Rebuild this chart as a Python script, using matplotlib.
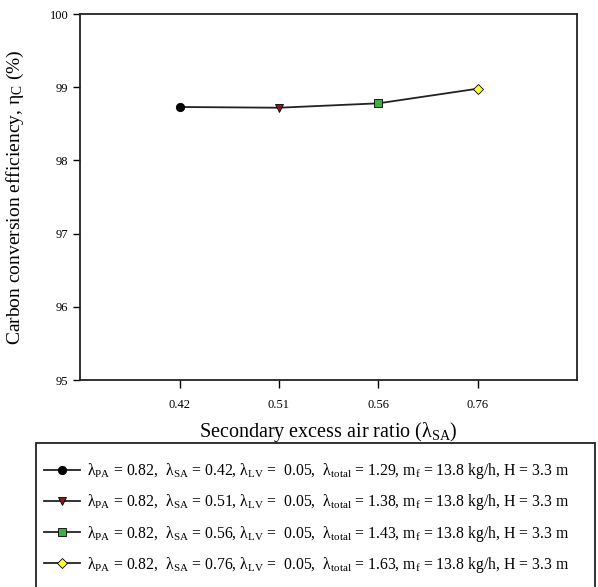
import matplotlib
matplotlib.use("Agg")
import matplotlib.pyplot as plt
from matplotlib.patches import Rectangle

plt.rcParams['font.family'] = ['Liberation Serif', 'DejaVu Serif']
plt.rcParams['mathtext.fontset'] = 'custom'
plt.rcParams['mathtext.rm'] = 'Liberation Serif'
plt.rcParams['mathtext.it'] = 'Liberation Serif:italic'

# data
sa_labels = ["0.42", "0.51", "0.56", "0.76"]
efficiency = [98.73, 98.72, 98.78, 98.98]
lambda_total = ["1.29", "1.38", "1.43", "1.63"]

markers = ["o", "v", "s", "D"]
colors = ["black", "#8b1a1a", "#3cb043", "#ffff33"]
sizes = [6, 6, 5.5, 5]

fig = plt.figure(figsize=(5.98, 5.87), dpi=100)
ax = fig.add_axes([0.134, 0.3526, 0.831, 0.6235])

pos = list(range(1, len(sa_labels) + 1))
ax.plot(pos, efficiency, color="#222222", lw=1.3, zorder=2)

for i in range(len(pos)):
    lab = ("λ$_{\\mathrm{PA}}$ = 0.82,  λ$_{\\mathrm{SA}}$ = " + sa_labels[i]
           + ", λ$_{\\mathrm{LV}}$ =  0.05,  λ$_{\\mathrm{total}}$ = " + lambda_total[i]
           + ", m$_{\\mathrm{f}}$ = 13.8 kg/h, H = 3.3 m")
    ax.plot([pos[i]], [efficiency[i]], ls="-", color="#222222", lw=1.3,
            marker=markers[i], markersize=sizes[i], markerfacecolor=colors[i],
            markeredgecolor="black", markeredgewidth=0.6, label=lab, zorder=3)

ax.set_xlim(0, 5)
ax.set_ylim(95, 100)
ax.set_xticks(pos)
ax.set_xticklabels(sa_labels, fontsize=9)
ax.set_yticks([95, 96, 97, 98, 99, 100])
ax.tick_params(axis="y", labelsize=9, direction="out", length=5, width=1)
ax.tick_params(axis="x", direction="out", length=6, width=1, pad=8)
for s in ax.spines.values():
    s.set_linewidth(1.3)
    s.set_color("#222222")

ax.set_xlabel("Secondary excess air ratio (λ$_{\\mathrm{SA}}$)", fontsize=14.5, labelpad=6)
ax.set_ylabel("Carbon conversion efficiency, η$_{\\mathrm{C}}$ (%)", fontsize=14, labelpad=17)

# legend box runs off the bottom of the figure, as in the original
fig.patches.append(Rectangle((36/598, -0.05), 559/598, 0.05 + 1 - 443/587,
                             transform=fig.transFigure, fill=False,
                             edgecolor="#222222", lw=1.3))
leg = fig.legend(loc="upper left", bbox_to_anchor=(44/598, 1 - 461/587),
                 fontsize=11.3, frameon=False, borderpad=0, borderaxespad=0,
                 handlelength=2.3, handletextpad=0.45, labelspacing=0.72)

fig.savefig("out.png", dpi=100)
